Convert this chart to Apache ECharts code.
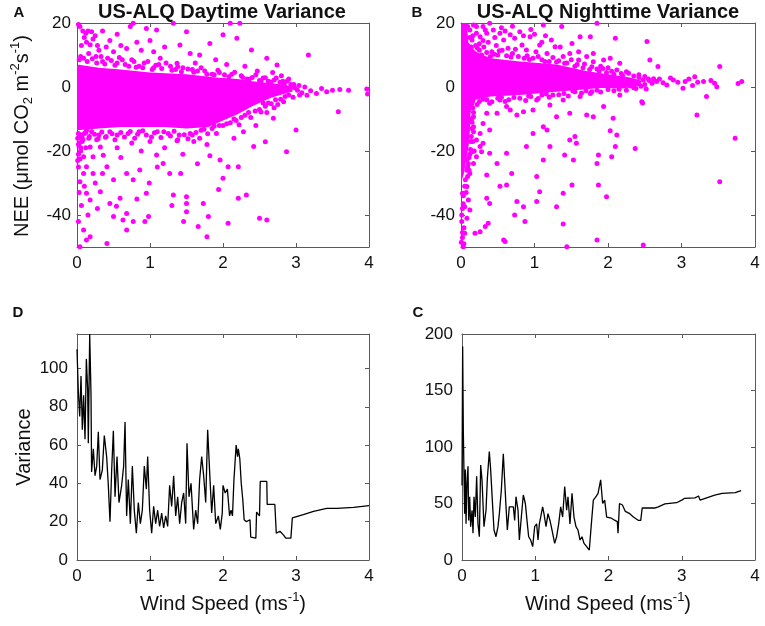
<!DOCTYPE html>
<html>
<head>
<meta charset="utf-8">
<script src="https://cdn.jsdelivr.net/npm/echarts@6/dist/echarts.min.js"></script>
<style>html,body{margin:0;padding:0;background:#fff}#c{width:765px;height:626px}</style>
</head>
<body>
<div id="c"></div>
<script>
// ---------------- DATA ----------------
const xTicks = [0, 1, 2, 3, 4];
const yTicksNEE = [-40, -20, 0, 20];
const yTicksDay = [0, 20, 40, 60, 80, 100];
const yTicksNight = [0, 50, 100, 150, 200];

// dense core envelope of the daytime cloud (panel A)
const dayCore = [[0,7],[0.3,6],[0.6,5.5],[1.0,4.5],[1.5,4],[1.9,3],[2.2,2.5],[2.4,1.8],[2.65,1.2],[2.85,0.8],[2.95,0],
  [2.95,-1.5],[2.85,-2],[2.65,-3.4],[2.4,-6],[2.2,-8.5],[2.0,-10.5],[1.8,-12.5],[1.5,-13],[1.2,-12.5],[1.0,-12.5],[0.6,-12.5],[0.3,-13],[0,-13.5]];

// individual daytime points (panel A)
const dayPoints = [
  [0.02,19.5],[0.04,18.9],[0.08,17.5],[0.12,16.8],[0.15,17.5],[0.2,17.3],[0.1,15.5],[0.13,14],[0.18,13.2],[0.22,15],[0.25,16],[0.28,13],[0.06,13],[0.3,11.5],[0.35,17.5],[0.4,12.5],[0.45,14.5],[0.5,11],[0.55,16.5],[0.6,13],[0.68,12],[0.73,18.9],[0.77,19.9],[0.82,14],[0.88,11.5],[0.95,18.3],[1.0,14.5],[1.09,17.8],[1.05,11],[1.14,9],[1.2,12.5],[1.32,19.9],[1.37,7.4],[1.41,13.1],[1.5,17.3],[1.55,10.5],[1.62,7.5],[1.68,10],[1.82,13.6],[1.9,8.5],[2.0,16.3],[2.1,19.9],[2.05,7],[2.19,15.2],[2.23,19.9],[2.3,6.5],[2.39,11.6],[2.47,5],[2.6,9],[2.68,4.5],[2.74,6.9],[2.8,3.5],[3.17,10],[2.9,2.5],
  [0.16,10.5],[0.26,9.5],[0.42,9],[0.62,8.5],[0.78,8],[0.92,7.5],[1.12,7],[1.28,6.5],[1.45,6],[1.58,5.5],[1.75,5],[1.95,4.5],[2.12,4],[2.25,3.5],[2.4,3],[2.55,2.8],[2.7,2.2],[2.82,1.8],[0.05,9.5],[0.35,8],[0.55,7.5],[0.85,6.5],[1.05,6],[1.35,5.5],[1.65,5],[1.85,4],[2.02,3.8],[2.33,2.5],[2.5,2],[2.62,1.8],[2.78,1.5],
  [0.03,8.5],[0.09,9],[0.14,8],[0.21,8.8],[0.27,7.5],[0.33,9.5],[0.38,7.2],[0.47,8.3],[0.52,6.8],[0.58,9.2],[0.66,7],[0.71,6.5],[0.75,8.5],[0.81,6.2],[0.9,6],[0.97,8],[1.03,5.5],[1.08,6.8],[1.16,5.8],[1.22,7.5],[1.3,5.2],[1.38,6.3],[1.43,4.8],[1.52,5.6],[1.6,4.6],[1.7,6],[1.78,4],[1.88,3.8],[1.93,5.2],[2.08,3.2],[2.16,4.6],[2.27,3],[2.36,2.4],[2.45,3.8],[2.52,1.8],[2.58,2.9],[2.66,1.6],[2.73,2.8],[2.84,1.2],[2.88,1.9],[2.93,0.8],[2.98,-0.2],[3.04,0.5],
  [2.92,-0.4],[2.97,0.8],[3.02,-1],[3.08,-1.8],[3.12,0],[3.2,-1.2],[3.28,-2],[3.35,-0.5],[3.42,-1.5],[3.5,-1],[3.6,-0.8],[3.72,-1],[3.97,-0.6],[3.98,-2.2],[3.58,-7.7],[3.0,-13.4],[2.87,-20.2],[3.05,-2.5],[3.15,-2.6],
  [2.58,-17.1],[2.69,-9.8],[2.42,-18.6],[2.21,-24.9],[2.32,-33.75],[2.21,-34.8],[2.0,-28.5],[2.07,-24.9],[1.96,-22.8],[1.78,-18],[1.82,-21.5],[1.94,-32],[1.73,-36.4],[1.66,-43.6],[1.78,-46.8],[1.8,-40.5],[2.07,-42.6],[2.5,-41],[2.6,-41.6],[1.5,-34.3],[1.5,-36.4],[1.5,-39],[1.46,-42],[1.32,-33.75],[1.27,-27],[1.18,-23.9],[1.09,-21.25],[0.99,-30],[0.95,-33.2],[0.98,-40.5],[0.93,-42],[0.77,-42],[0.68,-44.7],[0.63,-41.6],[0.68,-39.5],[0.59,-34.8],[0.54,-37.3],[0.5,-29],[0.41,-24.9],[0.36,-21.3],[0.45,-36.4],[0.5,-40.5],[0.41,-48.9],[0.18,-46.8],[0.09,-44.7],[0.04,-49.9],[0.13,-47.8],[0.04,-29.6],[0.09,-27],[0.13,-24.9],[0.22,-21.8],[0.32,-18.75],[0.09,-21.8],[0.18,-18.75],[0.04,-15.6],[0.13,-13.5],[0.13,-33.2],[0.18,-35.3],[0.32,-32.7],[0.22,-27],[0.77,-29],[0.86,-25.9],[0.68,-27],[0.6,-22],[0.55,-19],[0.75,-17.5],[0.88,-20],[1.0,-17],[1.2,-19],[1.38,-16.5],[1.45,-21],[1.6,-17],[1.65,-24],[1.42,-27],[1.1,-25],[0.82,-35],[0.25,-30],[0.28,-38],[0.15,-40],[0.06,-37],[0.02,-42],[0.1,-31],[0.02,-25],[0.05,-20],[0.02,-18],[0.08,-16.5],[0.16,-16],[0.12,-19],[0.27,-16.5],[0.4,-15.5],[0.03,-33],[0.35,-27],[1.3,-37],[2.28,-14],[2.15,-16],[2.45,-12],[2.6,-8],[2.75,-5.5],[2.55,-5],
  [0.05,-15],[0.1,-14.5],[0.2,-14],[0.3,-15],[0.45,-14],[0.55,-15],[0.7,-14.5],[0.85,-14],[0.95,-15],[1.1,-14],[1.25,-14.5],[1.4,-15],[1.55,-14.5],[1.7,-13.5],[1.85,-13],[1.95,-12],[2.05,-11.5],[2.15,-10],[2.25,-9.5],[2.35,-8],[2.5,-7],[2.62,-5],[2.72,-4],[2.85,-3],
  [0.02,-14.5],[0.07,-15.8],[0.12,-14.2],[0.17,-15.5],[0.24,-14.8],[0.29,-16.2],[0.34,-14.1],[0.39,-15.7],[0.48,-14.6],[0.52,-16.5],[0.6,-14.2],[0.65,-15.6],[0.73,-13.9],[0.79,-16],[0.83,-14.8],[0.9,-13.7],[1.02,-15.6],[1.06,-14.3],[1.15,-15.8],[1.19,-14],[1.28,-15.3],[1.33,-13.8],[1.37,-16.8],[1.47,-14.9],[1.52,-16.2],[1.58,-15],[1.63,-14.2],[1.68,-16],[1.74,-13.2],[1.79,-14.6],[1.88,-12.2],[1.91,-14.5],[2.0,-12],[2.1,-11.2],[2.18,-10.5],[2.22,-11.8],[2.3,-8.8],[2.38,-9.5],[2.44,-7.5],[2.52,-7.8],[2.58,-6],[2.66,-5.2],[2.7,-6.5],[2.79,-3.8],[2.83,-4.6],[2.9,-2.5],[2.96,-3.2],
  [0.01,-16],[0.03,-17.5],[0.05,-19],[0.02,-21],[0.07,-17],[0.01,-23],[0.04,-22.5]
];

// dense core envelope of the nighttime cloud (panel B)
const nightCore = [[0,20],[0.08,20],[0.1,14],[0.2,11],[0.4,9],[0.8,8],[1.3,7],[1.7,5],[2.0,4],[2.3,3],[2.45,2],[2.45,0.5],[2.2,-0.5],[1.9,-0.3],[1.3,-1.5],[0.8,-2.5],[0.4,-3],[0.2,-4],[0.13,-8],[0.12,-14],[0.1,-19],[0.07,-23],[0.04,-27],[0,-30]];

// individual nighttime points (panel B)
const nightPoints = [
  [0.17,19.4],[0.3,18.9],[0.39,19.9],[0.53,16.8],[0.67,16.3],[0.8,17.3],[0.94,15.7],[1.12,19.4],[1.23,14.7],[1.37,18.9],[1.51,13.6],[1.62,15.7],[1.76,15.7],[1.85,19.9],[1.94,8.4],[2.1,15.2],[2.03,9],[2.16,7.4],[2.25,4.8],[2.53,14.2],[2.57,8.4],[2.68,6.4],[0.12,17.8],[0.21,16.8],[0.15,14.7],[0.26,15.7],[0.35,16.8],[0.44,17.8],[0.58,14.7],[0.64,12.1],[0.73,15.2],[0.83,13.1],[0.89,11.6],[1.07,13.1],[1.17,10.5],[1.28,12.6],[1.39,9.5],[1.48,10.5],[1.6,8.4],[1.71,9.5],[1.8,7.9],[0.21,18.9],[0.33,17.8],[0.09,18.9],[0.14,12.5],[0.2,13],[0.25,11.5],[0.31,12.5],[0.37,14],[0.42,11],[0.48,13],[0.5,10],[0.56,11.5],[0.62,9.8],[0.7,10.5],[0.78,9.5],[0.86,9],[0.98,9],[1.02,11],[1.1,8.5],[1.2,8],[1.3,7.8],[1.44,7.5],[1.55,6.5],[1.66,6],[1.75,5.5],[1.88,5],[1.98,4.5],[2.08,4],[2.2,3.5],[0.18,10.5],[0.28,10],[0.4,9.5],[0.46,15.5],[0.16,16],[0.12,15.5],[0.25,13.5],[0.55,18.5],[0.7,19],[0.6,17.5],[0.95,18],[1.0,16.5],[1.15,16],[0.3,14.5],[0.85,16],[1.1,14],[1.35,12.5],[1.6,11],[1.8,10.5],[1.9,6.5],[2.0,6],
  [0.22,12.3],[0.35,10.8],[0.45,10.2],[0.52,11.3],[0.68,9.4],[0.74,11.8],[0.9,9.8],[0.93,8.6],[1.05,9.5],[1.14,8],[1.25,9.2],[1.33,8.2],[1.41,7.4],[1.5,8.5],[1.58,7],[1.68,7.2],[1.78,6.3],[1.85,5.6],[1.93,5.8],[2.05,4.9],[2.12,5.3],[2.18,4.2],[2.28,4.3],[2.35,3.4],[2.42,3.8],[2.5,3.3],[2.56,2],[2.62,2.6],
  [2.89,2.2],[3.05,1.7],[3.18,3.2],[3.3,1.7],[3.52,6.4],[3.77,1.1],[3.82,1.7],[3.48,0.1],[3.34,-3],[3.02,-0.4],[2.8,0.6],[2.66,1.7],[2.48,2.2],[2.34,1.7],[2.41,1.1],[2.5,0.8],[2.55,2.5],[2.6,1.2],[2.7,2.5],[2.75,1.3],[2.85,2.8],[2.95,1.5],[3.1,2.5],[3.15,0.5],[3.22,1.5],[3.4,2],[3.45,1.2],[2.42,3],[2.3,0.3],[2.38,-0.5],[2.45,0.2],[1.95,1],[2.47,-5],[2.03,-13.7],
  [3.21,-8.75],[3.73,-16],[3.52,-29.6],[2.37,-19.2],[2.46,-4.6],[2.07,-9.8],[2.12,-15],[2.1,-18.6],[2.05,-21.8],[1.98,-34.3],[1.87,-21.25],[1.85,-23.9],[1.87,-30.6],[1.8,-9.3],[1.85,-47.8],[2.48,-49.4],[1.55,-15.5],[1.57,-17.6],[1.53,-22.8],[1.51,-30.6],[1.39,-33.2],[1.41,-21.25],[1.39,-42.8],[1.44,-49.9],[1.3,-37.4],[1.21,-18.6],[1.12,-22.8],[1.07,-32.7],[1.03,-35.8],[1.03,-28],[0.98,-14.5],[1.17,-13.4],[0.89,-18.6],[0.87,-42],[0.85,-37.4],[0.76,-35.8],[0.73,-40],[0.69,-27],[0.62,-20.7],[0.53,-31],[0.62,-30.6],[0.49,-23.9],[0.39,-20.7],[0.35,-27.5],[0.39,-36.4],[0.35,-34.8],[0.28,-20.2],[0.3,-17.6],[0.39,-13.4],[0.49,-8.2],[0.76,-8.75],[0.62,-6.1],[0.85,-7.7],[0.98,-7.2],[1.12,-12.4],[1.3,-9.3],[1.48,-8.2],[1.48,-16.6],[1.71,-8.75],[0.58,-47.8],[0.6,-48.3],[0.33,-43.6],[0.19,-45.7],[0.26,-45.2],[0.37,-42.6],[0.12,-38.4],[0.08,-41],[0.05,-45.7],[0.03,-49.9],[0.08,-31.1],[0.12,-27],[0.17,-23.9],[0.21,-21.8],[0.26,-18.6],[0.1,-35.3],[0.05,-37.4],[0.02,-33.2],[0.08,-22.8],[0.15,-20.2],[0.21,-16.6],[0.17,-12.4],[0.26,-14.5],[0.17,-9.3],[0.3,-11.4],[0.35,-8.2],[0.39,-5.1],[0.53,-4.1],[0.67,-7.2],[1.03,-4.1],[1.21,-5.6],[1.39,-4.1],[1.62,-3],[1.94,-6.1],[2.16,-2.5],[1.76,-2],
  [0.15,-5],[0.25,-4.5],[0.35,-4],[0.5,-3.5],[0.65,-4],[0.8,-3.5],[0.95,-3],[1.1,-2.5],[1.25,-2.5],[1.4,-2],[1.55,-1.5],[1.7,-1.2],[1.85,-1],[2.0,-0.8],[2.15,-0.7],
  [0.22,-5.5],[0.3,-3.8],[0.42,-4.6],[0.55,-3.2],[0.6,-4.5],[0.72,-3.3],[0.88,-4.2],[0.92,-2.8],[1.05,-3.6],[1.16,-2.2],[1.2,-3.2],[1.33,-2.4],[1.46,-2.8],[1.52,-1.2],[1.64,-1.9],[1.78,-1.5],[1.9,-1.6],[2.08,-1.2],[2.25,-1],[2.35,-0.2],[2.52,-0.6],
  [0.14,-3],[0.16,-6.5],[0.15,-11],[0.17,-14],[0.14,-15.5],[0.13,-19.5],[0.11,-22],[0.09,-25],
  [0.14,-10],[0.15,-13],[0.13,-17],[0.12,-21],[0.1,-24],[0.08,-26],[0.06,-29],[0.05,-31],[0.03,-34],[0.02,-38],[0.01,-42],[0.04,-44],[0.02,-47],[0.01,-40],[0.03,-36.5],[0.07,-33],[0.09,-28],[0.11,-26],[0.16,-17],[0.17,-8],[0.18,-20],[0.02,-45.5],[0.005,-48.5],[0.04,-49]
];

// daytime running variance vs wind speed (panel D)
const dayVariance = [
  [0,110],[0.018,88],[0.037,75],[0.055,96],[0.073,68],[0.091,86],[0.11,63],[0.128,105],[0.146,89],[0.155,61],[0.174,118],[0.192,86],[0.2,46],[0.224,58],[0.247,44],[0.27,49],[0.292,67],[0.315,42],[0.347,47],[0.374,65],[0.406,54],[0.429,39],[0.452,20],[0.475,47],[0.498,67.5],[0.521,33],[0.548,54],[0.575,30],[0.612,39],[0.639,49],[0.658,72],[0.68,23],[0.703,42],[0.731,19],[0.758,49],[0.785,26],[0.813,14],[0.84,30],[0.868,19],[0.895,26],[0.922,49],[0.95,37],[0.968,54],[0.995,26],[1.023,14],[1.05,28],[1.078,19],[1.105,26],[1.132,17.5],[1.16,24.5],[1.187,16.7],[1.215,23],[1.242,17.5],[1.269,39],[1.297,28],[1.324,44],[1.352,23],[1.379,33],[1.406,19],[1.434,30],[1.461,35],[1.489,19],[1.507,61],[1.534,33],[1.562,40],[1.598,16],[1.626,26],[1.653,19],[1.68,42],[1.708,54],[1.735,44],[1.763,30],[1.79,68],[1.817,46],[1.845,24.5],[1.872,39],[1.9,19],[1.936,23],[1.963,16],[1.99,24.5],
  [2.0,39],[2.03,35],[2.06,37],[2.09,23],[2.11,26],[2.13,23],[2.15,42],[2.18,60],[2.2,54],[2.21,58],[2.23,53],[2.25,40],[2.27,32],[2.29,21],[2.32,20],[2.37,21],[2.38,12],[2.45,11.4],[2.46,25],[2.5,23],[2.51,41],[2.6,41],[2.605,29],[2.71,29],[2.73,14],[2.78,15],[2.83,13],[2.86,11.4],[2.93,11.4],[2.95,22],[3.1,23.7],[3.24,25.4],[3.42,27],[3.56,27],[3.58,26.3],[3.79,27.5],[4.0,28.4]
];

// nighttime running variance vs wind speed (panel C)
const nightVariance = [
  [0,66],[0.009,189],[0.018,115],[0.027,77],[0.036,41],[0.046,80],[0.055,32],[0.068,68],[0.082,83],[0.091,35],[0.105,56],[0.118,29.5],[0.137,44],[0.15,23.6],[0.164,56],[0.182,38],[0.2,74],[0.218,32],[0.237,20.6],[0.255,84],[0.273,71],[0.3,29.5],[0.328,44],[0.346,72],[0.373,96],[0.391,80],[0.419,47],[0.437,26.5],[0.464,20.6],[0.491,29.5],[0.51,41],[0.537,62],[0.564,94],[0.582,71],[0.601,47],[0.619,26.5],[0.646,47],[0.673,48.7],[0.701,47],[0.719,35],[0.737,56],[0.765,44],[0.783,17.7],[0.81,38],[0.837,57.5],[0.865,50],[0.892,32],[0.91,20.6],[0.937,17.7],[0.965,11.8],[0.992,29.5],[1.019,32],[1.038,17.7],[1.056,32],[1.074,38],[1.101,47],[1.119,41],[1.147,29.5],[1.174,41],[1.201,35],[1.229,26.5],[1.265,14.7],[1.292,20.6],[1.32,32],[1.347,47],[1.374,38],[1.402,65],[1.429,44],[1.447,56],[1.474,32],[1.502,59],[1.529,38],[1.556,29.5],[1.584,26.5],[1.611,17.7],[1.638,20.6],[1.666,14.7],[1.702,11.8],[1.738,8.8],[1.766,32],[1.793,53],[1.829,56],[1.857,59],[1.893,71],[1.92,50],[1.948,53],[1.975,38],
  [2.04,37],[2.09,35],[2.12,34],[2.13,23.6],[2.15,50],[2.19,48.7],[2.23,43],[2.29,41],[2.34,38],[2.41,35],[2.44,35],[2.46,46],[2.54,46],[2.63,46],[2.68,47],[2.77,49.6],[2.93,50.7],[3.0,53],[3.04,54.6],[3.18,55],[3.23,56.6],[3.25,53],[3.32,54.6],[3.45,57.5],[3.55,59],[3.73,59.6],[3.81,61.4]
];

// ---------------- CHART ----------------
const FONT = '"Liberation Sans", Arial, sans-serif';
const AXC = '#5a5a5a';
const TXT = '#111';
const MAG = '#ff00ff';

const grids = [
  {left: 77, top: 23, width: 292, height: 224},
  {left: 461, top: 23, width: 294, height: 224},
  {left: 77, top: 334, width: 292, height: 226},
  {left: 462, top: 334, width: 293, height: 226}
];
const yRanges = [[-50, 20, yTicksNEE], [-50, 20, yTicksNEE], [0, 118, yTicksDay], [0, 200, yTicksNight]];
const yMargins = [6, 6, 9, 9];

function axisBase(labels, ticks, min, max, margin) {
  return {
    type: 'value', min: min, max: max,
    axisLine: {show: true, onZero: false, lineStyle: {color: AXC, width: 1}},
    axisTick: {show: true, inside: true, length: 4, customValues: ticks, lineStyle: {color: AXC}},
    axisLabel: {show: labels, customValues: ticks, color: TXT, fontSize: 17, fontFamily: FONT, margin: margin},
    splitLine: {show: false}
  };
}

const xAxes = [], yAxes = [];
grids.forEach((g, i) => {
  const xb = axisBase(true, xTicks, 0, 4, 8); xb.gridIndex = i; xb.position = 'bottom';
  const xt = axisBase(false, xTicks, 0, 4, 8); xt.gridIndex = i; xt.position = 'top';
  const yl = axisBase(true, yRanges[i][2], yRanges[i][0], yRanges[i][1], yMargins[i]); yl.gridIndex = i; yl.position = 'left';
  const yr = axisBase(false, yRanges[i][2], yRanges[i][0], yRanges[i][1], 6); yr.gridIndex = i; yr.position = 'right';
  xAxes.push(xb, xt); yAxes.push(yl, yr);
});

function polyRender(core) {
  return function (params, api) {
    if (params.dataIndex !== 0) return null;
    return {type: 'polygon', shape: {points: core.map(p => api.coord(p))}, style: {fill: MAG}};
  };
}

const rich = {
  m: {fontSize: 20, fontFamily: FONT, fill: TXT, lineHeight: 26},
  sup: {fontSize: 13, fontFamily: FONT, fill: TXT, lineHeight: 14, verticalAlign: 'top'},
  sub: {fontSize: 13, fontFamily: FONT, fill: TXT, lineHeight: 14, verticalAlign: 'bottom'}
};

function txt(x, y, text, opts) {
  return Object.assign({type: 'text', x: x, y: y, silent: true,
    style: Object.assign({text: text, align: 'center', verticalAlign: 'middle', fill: TXT, fontFamily: FONT}, opts || {})});
}

const option = {
  animation: false,
  backgroundColor: '#fff',
  grid: grids,
  xAxis: xAxes,
  yAxis: yAxes,
  series: [
    {type: 'custom', xAxisIndex: 0, yAxisIndex: 0, data: dayCore, renderItem: polyRender(dayCore), clip: true, silent: true},
    {type: 'scatter', xAxisIndex: 0, yAxisIndex: 0, data: dayPoints, symbolSize: 5, itemStyle: {color: MAG, opacity: 1}, silent: true},
    {type: 'custom', xAxisIndex: 2, yAxisIndex: 2, data: nightCore, renderItem: polyRender(nightCore), clip: true, silent: true},
    {type: 'scatter', xAxisIndex: 2, yAxisIndex: 2, data: nightPoints, symbolSize: 5, itemStyle: {color: MAG, opacity: 1}, silent: true},
    {type: 'line', xAxisIndex: 4, yAxisIndex: 4, data: dayVariance, showSymbol: false, lineStyle: {color: '#000', width: 1.3}, silent: true},
    {type: 'line', xAxisIndex: 6, yAxisIndex: 6, data: nightVariance, showSymbol: false, lineStyle: {color: '#000', width: 1.3}, silent: true}
  ],
  graphic: [
    txt(222, 12, 'US-ALQ Daytime Variance', {fontSize: 20, fontWeight: 'bold'}),
    txt(608, 12, 'US-ALQ Nighttime Variance', {fontSize: 20, fontWeight: 'bold'}),
    txt(19, 13, 'A', {fontSize: 15, fontWeight: 'bold'}),
    txt(417, 13, 'B', {fontSize: 15, fontWeight: 'bold'}),
    txt(18, 313, 'D', {fontSize: 15, fontWeight: 'bold'}),
    txt(418, 313, 'C', {fontSize: 15, fontWeight: 'bold'}),
    Object.assign(txt(22, 136, '{m|NEE (}{m|\u03bcmol CO}{sub|2}{m| m}{sup|-2}{m|s}{sup|-1}{m|)}', {rich: rich}), {rotation: Math.PI / 2}),
    Object.assign(txt(24, 447, 'Variance', {fontSize: 20}), {rotation: Math.PI / 2}),
    txt(223, 604, '{m|Wind Speed (ms}{sup|-1}{m|)}', {rich: rich}),
    txt(608, 604, '{m|Wind Speed (ms}{sup|-1}{m|)}', {rich: rich})
  ]
};

const chart = echarts.init(document.getElementById('c'), null, {renderer: 'canvas'});
chart.setOption(option);
</script>
</body>
</html>
